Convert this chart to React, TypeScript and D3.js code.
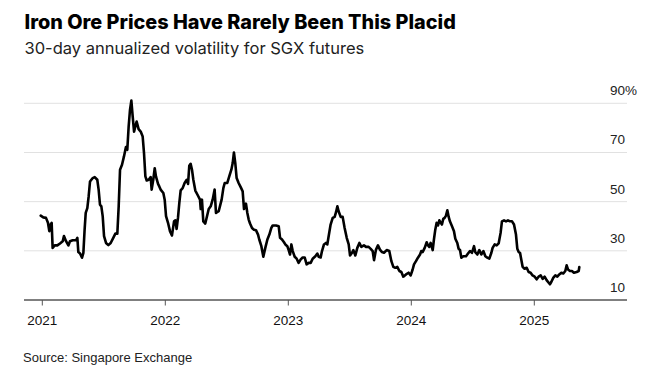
import React from "react";
import * as d3 from "d3";

const title = "Iron Ore Prices Have Rarely Been This Placid";
const subtitle = "30-day annualized volatility for SGX futures";
const source = "Source: Singapore Exchange";

const yearTicks = [2021, 2022, 2023, 2024, 2025];
const valueTicks = [10, 30, 50, 70, 90];

// decimal year of each observation
const years = [
  2020.987, 2021.008, 2021.030, 2021.046, 2021.057, 2021.068, 2021.076, 2021.084, 2021.101, 2021.122,
  2021.144, 2021.166, 2021.176, 2021.193, 2021.212, 2021.225, 2021.247, 2021.274, 2021.285, 2021.293,
  2021.307, 2021.323, 2021.334, 2021.344, 2021.353, 2021.366, 2021.377, 2021.388, 2021.410, 2021.426,
  2021.447, 2021.458, 2021.469, 2021.480, 2021.491, 2021.502, 2021.518, 2021.537, 2021.556, 2021.577,
  2021.594, 2021.610, 2021.621, 2021.632, 2021.648, 2021.664, 2021.680, 2021.691, 2021.702, 2021.713,
  2021.724, 2021.735, 2021.746, 2021.756, 2021.767, 2021.783, 2021.800, 2021.816, 2021.827, 2021.838,
  2021.849, 2021.865, 2021.881, 2021.889, 2021.903, 2021.914, 2021.924, 2021.941, 2021.951, 2021.962,
  2021.984, 2021.995, 2022.006, 2022.022, 2022.038, 2022.054, 2022.071, 2022.082, 2022.092, 2022.103,
  2022.114, 2022.125, 2022.141, 2022.157, 2022.174, 2022.185, 2022.195, 2022.206, 2022.217, 2022.228,
  2022.244, 2022.266, 2022.282, 2022.288, 2022.298, 2022.309, 2022.325, 2022.342, 2022.353, 2022.369,
  2022.385, 2022.401, 2022.412, 2022.434, 2022.458, 2022.472, 2022.483, 2022.504, 2022.520, 2022.537,
  2022.548, 2022.558, 2022.569, 2022.580, 2022.596, 2022.613, 2022.629, 2022.640, 2022.656, 2022.667,
  2022.678, 2022.689, 2022.705, 2022.721, 2022.737, 2022.754, 2022.764, 2022.781, 2022.797, 2022.813,
  2022.830, 2022.846, 2022.862, 2022.873, 2022.900, 2022.922, 2022.933, 2022.949, 2022.965, 2022.976,
  2022.992, 2023.003, 2023.014, 2023.025, 2023.036, 2023.052, 2023.068, 2023.084, 2023.101, 2023.117,
  2023.133, 2023.149, 2023.166, 2023.182, 2023.198, 2023.220, 2023.236, 2023.247, 2023.263, 2023.274,
  2023.290, 2023.306, 2023.317, 2023.328, 2023.344, 2023.361, 2023.377, 2023.388, 2023.399, 2023.409,
  2023.426, 2023.442, 2023.458, 2023.475, 2023.491, 2023.502, 2023.518, 2023.529, 2023.545, 2023.561,
  2023.578, 2023.594, 2023.615, 2023.632, 2023.653, 2023.670, 2023.686, 2023.697, 2023.713, 2023.729,
  2023.745, 2023.762, 2023.778, 2023.800, 2023.821, 2023.838, 2023.854, 2023.870, 2023.886, 2023.903,
  2023.919, 2023.935, 2023.957, 2023.978, 2023.995, 2024.011, 2024.022, 2024.038, 2024.054, 2024.071,
  2024.081, 2024.092, 2024.109, 2024.125, 2024.136, 2024.146, 2024.157, 2024.174, 2024.184, 2024.195,
  2024.206, 2024.217, 2024.228, 2024.239, 2024.249, 2024.260, 2024.271, 2024.282, 2024.293, 2024.304,
  2024.314, 2024.331, 2024.347, 2024.358, 2024.374, 2024.385, 2024.396, 2024.407, 2024.423, 2024.445,
  2024.461, 2024.477, 2024.493, 2024.510, 2024.520, 2024.537, 2024.553, 2024.569, 2024.586, 2024.602,
  2024.618, 2024.634, 2024.651, 2024.661, 2024.678, 2024.694, 2024.710, 2024.726, 2024.737, 2024.754,
  2024.770, 2024.786, 2024.802, 2024.819, 2024.835, 2024.851, 2024.862, 2024.873, 2024.884, 2024.894,
  2024.905, 2024.921, 2024.938, 2024.954, 2024.970, 2024.986, 2025.003, 2025.019, 2025.035, 2025.052,
  2025.068, 2025.084, 2025.100, 2025.117, 2025.127, 2025.138, 2025.155, 2025.171, 2025.187, 2025.203,
  2025.220, 2025.236, 2025.252, 2025.263, 2025.274, 2025.290, 2025.306, 2025.322, 2025.344, 2025.361,
  2025.366,
];

// 30-day annualized volatility, %
const volatility = [
  44.3, 43.6, 43.4, 41.4, 38.0, 40.7, 41.4, 31.2, 32.2, 32.2,
  33.0, 33.9, 36.0, 33.9, 32.2, 33.9, 34.3, 34.3, 35.3, 29.5,
  28.9, 27.2, 29.2, 38.6, 45.4, 47.4, 52.2, 58.2, 59.6, 60.0,
  58.9, 54.9, 48.8, 48.1, 44.1, 36.0, 33.2, 32.3, 33.2, 35.3,
  37.0, 37.0, 48.1, 63.0, 65.0, 68.4, 72.2, 71.1, 80.5, 87.3,
  91.1, 84.6, 78.5, 80.5, 82.6, 79.5, 78.5, 76.5, 69.7, 60.3,
  58.6, 58.9, 60.0, 54.9, 59.2, 63.6, 60.3, 57.2, 56.2, 54.9,
  53.5, 50.8, 44.1, 41.4, 38.0, 36.2, 42.0, 42.4, 38.9, 43.4,
  49.5, 54.6, 55.5, 57.6, 58.9, 57.2, 64.6, 65.4, 63.0, 58.9,
  54.5, 52.4, 50.8, 47.0, 50.8, 42.0, 41.1, 44.7, 47.0, 48.1,
  50.8, 54.9, 45.4, 46.1, 50.8, 55.5, 57.6, 57.6, 60.3, 63.0,
  65.7, 70.0, 65.7, 59.6, 57.6, 55.9, 54.2, 47.0, 49.2, 45.4,
  42.7, 41.1, 39.3, 38.6, 38.4, 36.6, 34.6, 31.9, 27.6, 31.2,
  34.6, 36.6, 39.3, 40.3, 40.3, 40.0, 35.3, 34.6, 33.5, 32.6,
  31.9, 30.3, 28.5, 32.6, 29.9, 27.6, 26.8, 25.1, 26.5, 27.3,
  27.3, 24.5, 25.1, 25.1, 26.8, 27.8, 28.9, 27.6, 27.3, 29.9,
  32.6, 33.2, 32.6, 35.9, 40.7, 43.4, 43.8, 45.7, 48.1, 46.1,
  43.8, 43.8, 39.3, 35.3, 32.6, 28.1, 29.2, 30.3, 28.1, 31.2,
  33.2, 31.6, 32.2, 31.6, 31.6, 30.8, 29.9, 26.2, 30.5, 32.2,
  30.5, 29.5, 29.2, 30.3, 29.9, 25.8, 23.5, 23.1, 23.5, 21.8,
  21.4, 19.5, 20.4, 21.1, 20.0, 22.4, 24.5, 25.8, 27.2, 28.5,
  29.9, 29.5, 31.2, 33.5, 32.2, 31.6, 33.2, 30.3, 34.6, 38.6,
  41.4, 40.3, 42.4, 41.4, 40.7, 43.0, 43.4, 44.3, 46.5, 43.8,
  42.0, 40.0, 38.0, 34.9, 33.2, 30.8, 30.3, 27.2, 27.8, 27.8,
  28.9, 29.9, 29.2, 31.9, 29.5, 28.5, 30.3, 28.5, 29.9, 27.8,
  27.2, 26.8, 29.2, 31.2, 32.6, 32.2, 33.0, 37.3, 42.0, 42.4,
  42.0, 42.4, 42.0, 42.0, 40.7, 36.6, 30.8, 29.5, 29.2, 26.5,
  23.5, 22.7, 23.1, 21.4, 21.1, 20.0, 19.5, 18.4, 19.5, 20.0,
  18.6, 19.5, 18.1, 17.0, 16.4, 17.3, 19.1, 20.0, 19.5, 20.4,
  21.1, 20.8, 21.8, 24.1, 22.4, 21.8, 21.8, 21.1, 21.4, 21.8,
  23.4,
];

const W = 661;
const H = 375;
const FONT = "'Liberation Sans', Arial, Helvetica, sans-serif";
const HEAD_FONT = "Inter, 'Liberation Sans', Arial, sans-serif";

export default function App() {
  const x = d3.scaleLinear().domain([2021, 2025]).range([42.3, 534.3]);
  const y = d3.scaleLinear().domain([10, 90]).range([300, 103.3]);
  const plotLeft = 24;
  const plotRight = 627;

  const data = years.map((t, i) => ({ t, v: volatility[i] }));
  const line = d3
    .line<{ t: number; v: number }>()
    .x((d) => x(d.t))
    .y((d) => y(d.v))
    .curve(d3.curveLinear);

  return (
    <svg
      width={W}
      height={H}
      viewBox={`0 0 ${W} ${H}`}
      style={{ position: "absolute", left: 0, top: 0, background: "#fff", display: "block" }}
      fontFamily={FONT}
    >
      <rect x={0} y={0} width={W} height={H} fill="#fff" />
      <text x={24.5} y={28.5} fontSize={19.85} fontWeight={800} fill="#000" fontFamily={HEAD_FONT}>
        {title}
      </text>
      <text x={24.5} y={54} fontSize={16.5} fill="#222" fontFamily={HEAD_FONT}>
        {subtitle}
      </text>

      {valueTicks.map((v) => (
        <g key={v}>
          {v !== 10 && (
            <line x1={plotLeft} x2={plotRight} y1={y(v)} y2={y(v)} stroke="#e1e1e1" strokeWidth={1} />
          )}
          <text x={610} y={y(v) - 8} fontSize={13.5} fill="#222">
            {v === 90 ? `${v}%` : `${v}`}
          </text>
        </g>
      ))}

      <path d={line(data) || ""} fill="none" stroke="#000" strokeWidth={2.6} strokeLinejoin="round" strokeLinecap="round" />

      <line x1={plotLeft} x2={plotRight} y1={y(10)} y2={y(10)} stroke="#000" strokeWidth={1} />
      {yearTicks.map((t) => (
        <g key={t}>
          <line x1={x(t)} x2={x(t)} y1={y(10)} y2={y(10) + 5.5} stroke="#555" strokeWidth={1} />
          <text x={x(t)} y={325} fontSize={13.5} textAnchor="middle" fill="#111">
            {t}
          </text>
        </g>
      ))}

      <text x={23} y={362} fontSize={13} fill="#222">
        {source}
      </text>
    </svg>
  );
}
